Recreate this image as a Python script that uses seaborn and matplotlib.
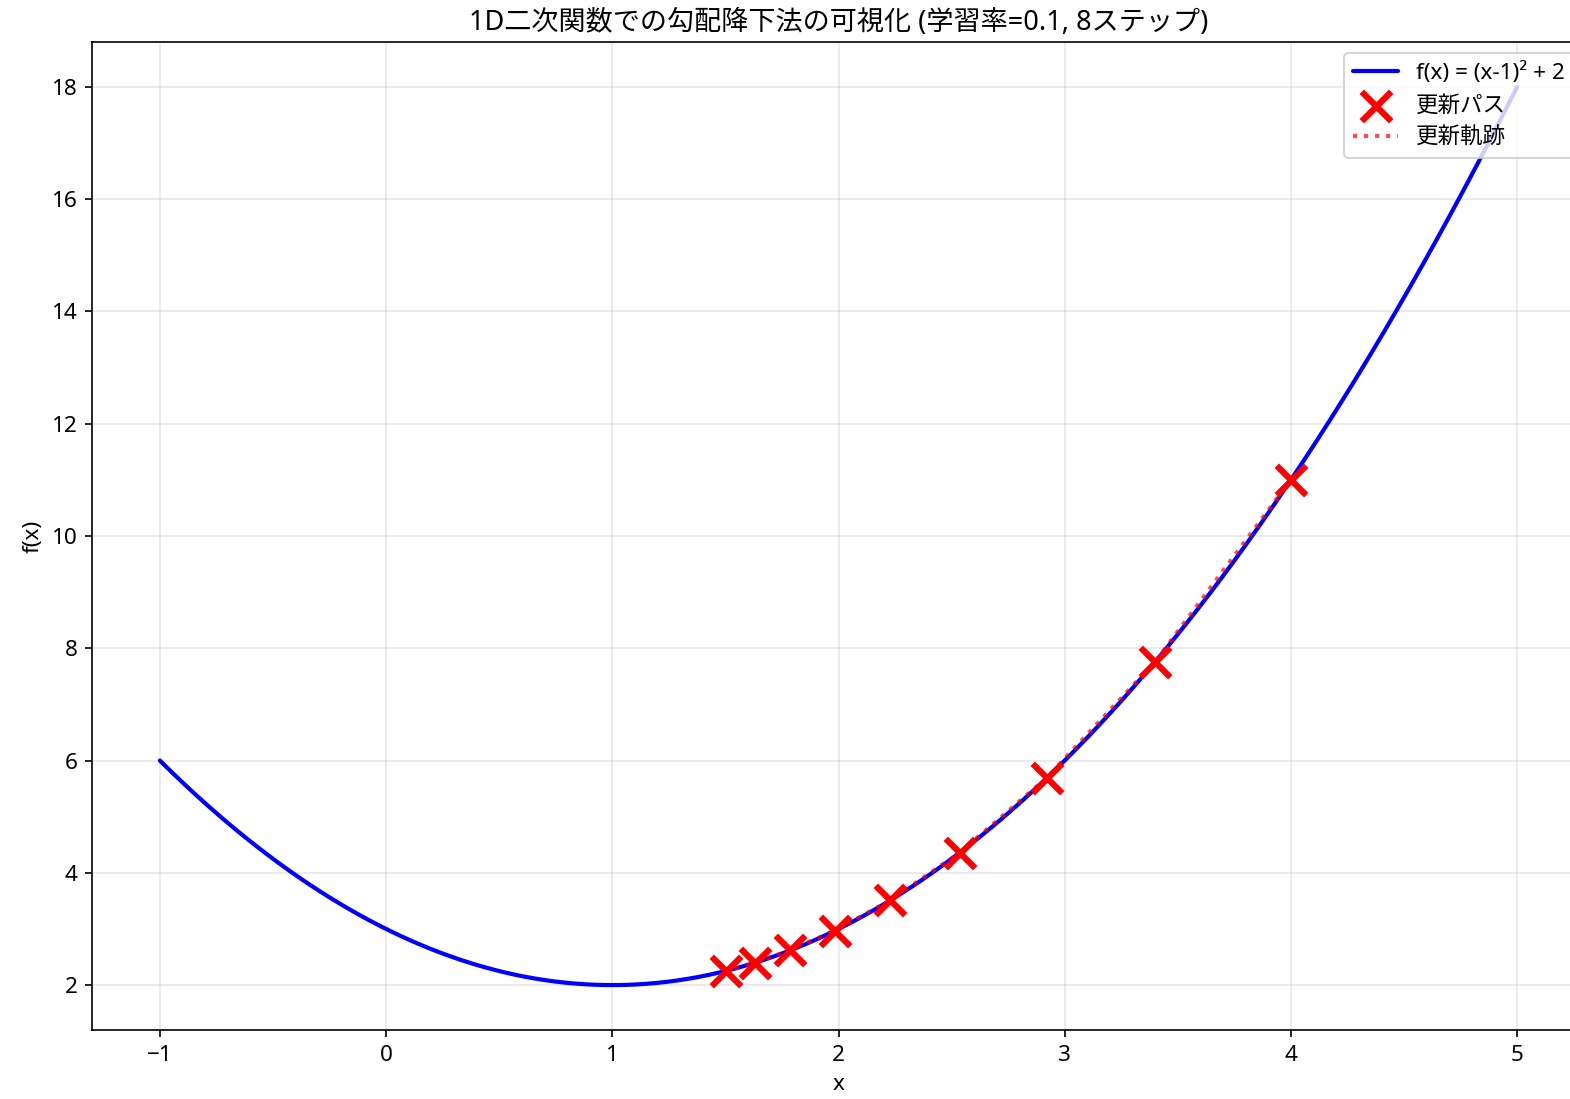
import numpy as np
import pandas as pd
import matplotlib
matplotlib.use("Agg")
import matplotlib.pyplot as plt
import seaborn as sns

# Gradient-descent path (x and f(x) at each step)
path_x = [4.0, 3.4, 2.92, 2.536, 2.229, 1.983, 1.786, 1.629, 1.503]
path_y = [11.0, 7.76, 5.69, 4.36, 3.51, 2.97, 2.62, 2.40, 2.25]

# Curve f(x) = (x-1)^2 + 2 on [-1, 5], as stated in the legend
curve_x = np.linspace(-1, 5, 400)
curve_y = (curve_x - 1) ** 2 + 2

title = "1D二次関数での勾配降下法の可視化 (学習率=0.1, 8ステップ)"
label_curve = "f(x) = (x-1)² + 2"
label_points = "更新パス"
label_path = "更新軌跡"

sns.set_style("ticks")
plt.rcParams['font.family'] = ['Noto Sans', 'Noto Sans CJK JP', 'DejaVu Sans']
plt.rcParams['axes.unicode_minus'] = True
plt.rcParams['font.size'] = 10.8
plt.rcParams['xtick.labelsize'] = 10.8
plt.rcParams['ytick.labelsize'] = 10.8
plt.rcParams['legend.fontsize'] = 10.8
plt.rcParams['axes.labelsize'] = 10.8
for k in ['text.color', 'axes.labelcolor', 'xtick.color', 'ytick.color', 'axes.edgecolor']:
    plt.rcParams[k] = 'black'

fig = plt.figure(figsize=(1570 / 150, 1099 / 150), dpi=150)
ax = fig.add_axes([92 / 1570, (1099 - 1030) / 1099, (1585 - 92) / 1570, (1030 - 42) / 1099])

curve_df = pd.DataFrame({"x": curve_x, "y": curve_y})
path_df = pd.DataFrame({"x": path_x, "y": path_y})

sns.lineplot(data=curve_df, x="x", y="y", ax=ax, color="blue", linewidth=2,
             label=label_curve, sort=False, zorder=2)
sns.scatterplot(data=path_df, x="x", y="y", ax=ax, marker="x", color="red",
                s=200, linewidth=3, label=label_points, zorder=5)
sns.lineplot(data=path_df, x="x", y="y", ax=ax, color="red", linestyle=":",
             linewidth=2, alpha=0.7, label=label_path, sort=False, zorder=3)

ax.set_title(title, fontsize=13)
ax.set_xlabel("x")
ax.set_ylabel("f(x)")
ax.grid(True, color="#b0b0b0", alpha=0.3)
ax.set_yticks([2, 4, 6, 8, 10, 12, 14, 16, 18])
ax.set_xticks([-1, 0, 1, 2, 3, 4, 5])
ax.legend(loc="upper right")

fig.savefig("out.png", dpi=150)
